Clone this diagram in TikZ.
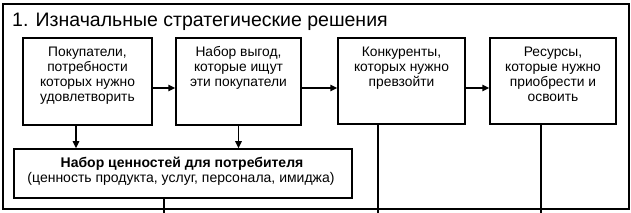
\documentclass[tikz,border=0pt]{standalone}
\usepackage{fontspec}
\setmainfont{Liberation Sans}
\usetikzlibrary{arrows.meta}
\tikzset{
  boxshape/.style={draw, line width=1.5pt, inner sep=0pt},
  ln/.style={inner sep=0pt, anchor=base, font=\fontsize{13.8}{15}\selectfont},
  lnb/.style={inner sep=0pt, anchor=base, font=\fontsize{14}{15}\selectfont\bfseries},
  lnl/.style={inner sep=0pt, anchor=base, font=\fontsize{14}{15}\selectfont},
  arr/.style={line width=1.5pt, -{Triangle[length=7pt,width=6.5pt]}},
  plain/.style={line width=1.5pt}
}
\begin{document}
\begin{tikzpicture}[x=1pt,y=-1pt]
\useasboundingbox (0,0) rectangle (631,213);
\fill[white] (0,0) rectangle (631,213);
\draw[line width=1.9pt] (3,4) rectangle (629,209);
\node[anchor=base west, inner sep=0pt, font=\fontsize{19.5}{22}\selectfont] (title) at (12,27) {1. Изначальные стратегические решения};

\node[boxshape, minimum width=129pt, minimum height=87pt] (b1) at (87.5,81.5) {};
\node[boxshape, minimum width=125pt, minimum height=87pt] (b2) at (238.5,81.5) {};
\node[boxshape, minimum width=127pt, minimum height=86pt] (b3) at (401.5,81) {};
\node[boxshape, minimum width=126pt, minimum height=86pt] (b4) at (553,81) {};
\node[boxshape, minimum width=338pt, minimum height=49pt] (low) at (183,173.5) {};

\node[ln] (t11) at ([yshift=-19.5pt]b1.north) {Покупатели,};
\node[ln] (t12) at ([yshift=-34.5pt]b1.north) {потребности};
\node[ln] (t13) at ([yshift=-49.5pt]b1.north) {которых нужно};
\node[ln] (t14) at ([yshift=-64.5pt]b1.north) {удовлетворить};

\node[ln] (t21) at ([yshift=-19.5pt]b2.north) {Набор выгод,};
\node[ln] (t22) at ([yshift=-34.5pt]b2.north) {которые ищут};
\node[ln] (t23) at ([yshift=-49.5pt]b2.north) {эти покупатели};

\node[ln] (t31) at ([yshift=-19.5pt]b3.north) {Конкуренты,};
\node[ln] (t32) at ([yshift=-34.5pt]b3.north) {которых нужно};
\node[ln] (t33) at ([yshift=-49.5pt]b3.north) {превзойти};

\node[ln] (t41) at ([yshift=-19.5pt]b4.north) {Ресурсы,};
\node[ln] (t42) at ([yshift=-34.5pt]b4.north) {которые нужно};
\node[ln] (t43) at ([yshift=-49.5pt]b4.north) {приобрести и};
\node[ln] (t44) at ([yshift=-64.5pt]b4.north) {освоить};

\node[lnb] (t51) at ([xshift=-1pt,yshift=-19pt]low.north) {Набор ценностей для потребителя};
\node[lnl] (t52) at ([xshift=-2pt,yshift=-34pt]low.north) {(ценность продукта, услуг, персонала, имиджа)};

\draw[arr] ([yshift=-6.5pt]b1.east) -- ([yshift=-6.5pt]b2.west);
\draw[arr] ([yshift=-6.5pt]b2.east) -- ([yshift=-6.5pt]b2.east -| b3.west);
\draw[arr] ([yshift=-7pt]b3.east) -- ([yshift=-7pt]b4.west);
\draw[arr] ([xshift=-11.5pt]b1.south) -- ([xshift=-11.5pt]b1.south |- low.north);
\draw[arr] (b2.south) -- (b2.south |- low.north);

\coordinate (e1) at (164,213);
\coordinate (e2) at (378,213);
\coordinate (e3) at (541,213);
\draw[plain] (low.south -| e1) -- (e1);
\draw[plain] (b3.south -| e2) -- (e2);
\draw[plain] (b4.south -| e3) -- (e3);
\end{tikzpicture}
\end{document}
